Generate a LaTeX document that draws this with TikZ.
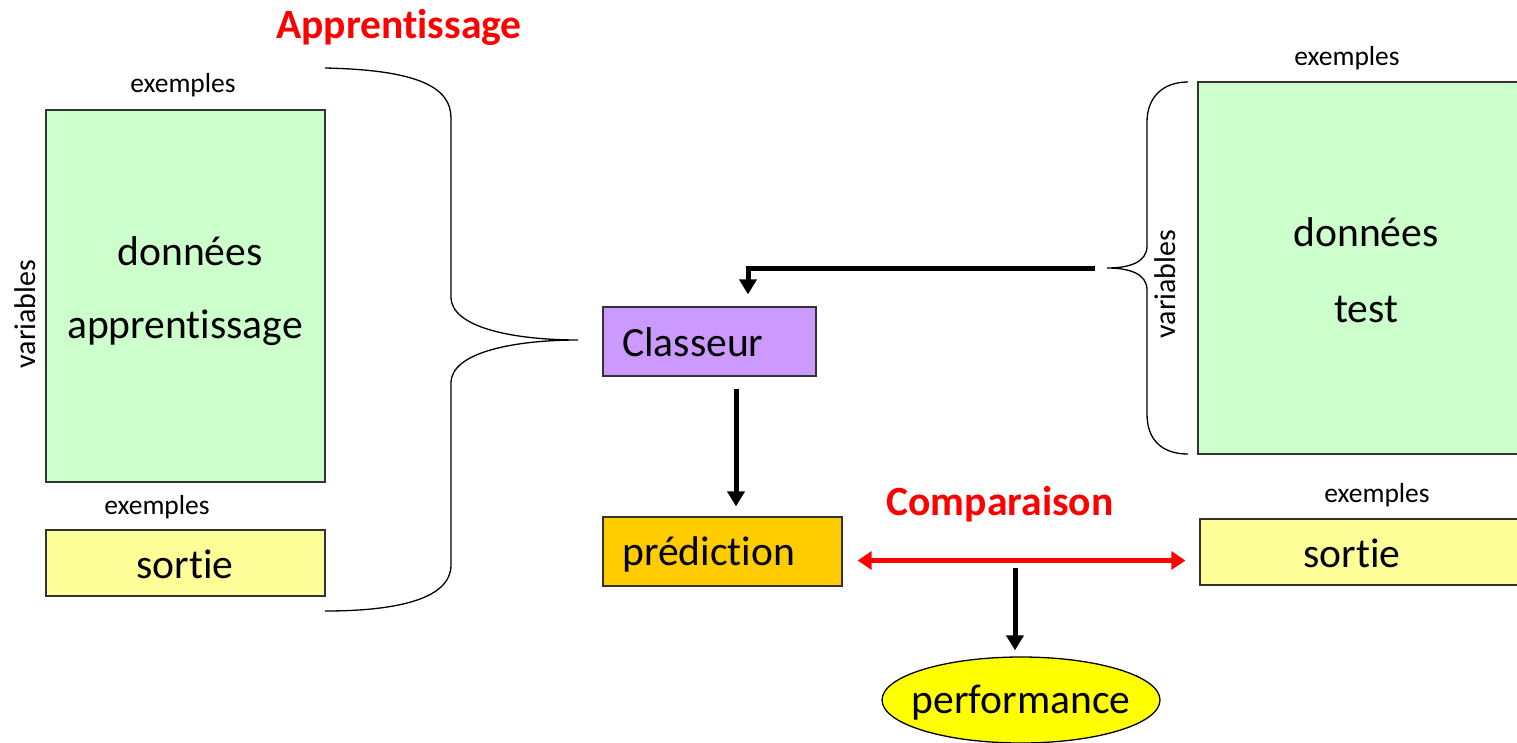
\documentclass[tikz,border=0pt]{standalone}
\usepackage{fontspec}
\setmainfont[Ligatures={NoCommon}]{Carlito}
\usetikzlibrary{arrows.meta,shapes.geometric,calc}
\definecolor{greenfill}{HTML}{CCFFCC}
\definecolor{yellowfill}{HTML}{FFFF99}
\definecolor{violetfill}{HTML}{CC99FF}
\definecolor{orangefill}{HTML}{FFCC00}
\definecolor{perffill}{HTML}{FFFF00}
\definecolor{edge}{HTML}{333333}
\tikzset{
  box/.style={draw=edge, line width=1.3pt, inner sep=0pt},
  bigtext/.style={font=\fontsize{41.6}{50}\selectfont, inner sep=0pt},
  smalltext/.style={font=\fontsize{27.5}{33}\selectfont, inner sep=0pt},
  vartext/.style={font=\fontsize{30}{36}\selectfont, inner sep=0pt, rotate=90},
  heading/.style={font=\fontsize{41.6}{50}\selectfont\bfseries, text=red, inner sep=0pt},
  brace/.style={draw=black, line width=1.3pt},
  arr/.style={line width=5pt, -{Triangle[length=15pt,width=17pt]}},
  redarr/.style={draw=red, line width=5pt, {Triangle[length=14pt,width=18pt]}-{Triangle[length=14pt,width=18pt]}}
}
\begin{document}
\begin{tikzpicture}[x=1pt,y=-1pt]
\useasboundingbox (0,0) rectangle (1517,742);
\clip (0,0) rectangle (1517,742);

% training data (left)
\node[box, fill=greenfill, minimum width=279pt, minimum height=372pt] (train) at (185.5,296) {};
\node[smalltext] (exTrain) at (183,85) {exemples};
\node[bigtext] (trainA) at (190,251) {données};
\node[bigtext] (trainB) at (185,328) {apprentissage};
\node[vartext] (varTrain) at (25,314) {variables};
\node[smalltext] (exOutL) at (157,507) {exemples};
\node[box, fill=yellowfill, minimum width=279pt, minimum height=66pt] (outL) at (185.5,563) {};
\node[bigtext] (outLtxt) at (185,564) {sortie};
\node[heading] (learn) at (399,27) {Apprentissage};

% brace gathering the training set
\coordinate (lbTop) at (325,68);
\coordinate (lbTip) at (578,340);
\coordinate (lbBot) at (325,611);
\draw[brace] (lbTop) .. controls (420,70) and (451,88) .. (451,118)
  -- (451,297) .. controls (451,328) and (515,340) .. (lbTip)
  .. controls (515,340) and (451,352) .. (451,383)
  -- (451,565) .. controls (451,598) and (400,611) .. (lbBot);

% classifier and prediction
\node[box, fill=violetfill, minimum width=213pt, minimum height=69pt] (cls) at (709.5,341.5) {};
\node[bigtext, anchor=west] (clsTxt) at (622,342) {Classeur};
\node[box, fill=orangefill, minimum width=239pt, minimum height=69pt] (pred) at (722.5,551.5) {};
\node[bigtext, anchor=west] (predTxt) at (622,554) {prédiction};

\draw[arr, shorten <=12pt, shorten >=10pt] ([xshift=26.5pt]cls.south) -- ([xshift=26.5pt]cls.south |- pred.north);

% test data (right)
\node[box, fill=greenfill, minimum width=360pt, minimum height=372pt] (test) at (1378,268) {};
\node[smalltext] (exTest) at (1347,58) {exemples};
\node[bigtext] (testA) at (1366,232) {données};
\node[bigtext] (testB) at (1366,309) {test};
\node[vartext] (varTest) at (1165,284) {variables};
\node[smalltext] (exOutR) at (1377,495) {exemples};
\node[box, fill=yellowfill, minimum width=360pt, minimum height=66pt] (outR) at (1380,552) {};
\node[bigtext] (outRtxt) at (1352,553) {sortie};

% brace over the test variables
\coordinate (rbTop) at (1188,82);
\coordinate (rbTip) at (1107,268);
\coordinate (rbBot) at (1188,454);
\draw[brace] (rbTop) .. controls (1162,82) and (1147,98) .. (1147,122)
  -- (1147,246) .. controls (1147,262) and (1130,268) .. (rbTip)
  .. controls (1130,268) and (1147,274) .. (1147,290)
  -- (1147,414) .. controls (1147,440) and (1162,454) .. (rbBot);

\draw[arr, shorten <=12pt, shorten >=12pt] (rbTip) -| ([xshift=38.5pt]cls.north);

% comparison
\node[heading] (cmpTxt) at (1000,504) {Comparaison};
\draw[redarr, shorten <=15pt, shorten >=14pt] ([yshift=-9pt]pred.east) -- ([yshift=-9pt]pred.east -| outR.west);
\coordinate (cmp) at (1015,568);
\node[ellipse, draw=black, line width=1.3pt, fill=perffill, minimum width=278pt, minimum height=86pt, inner sep=0pt] (perf) at (1021,700) {};
\node[bigtext] (perfTxt) at (1021,703) {performance};
\draw[arr, shorten >=6pt] (cmp) -- (cmp |- perf.north);
\end{tikzpicture}
\end{document}
